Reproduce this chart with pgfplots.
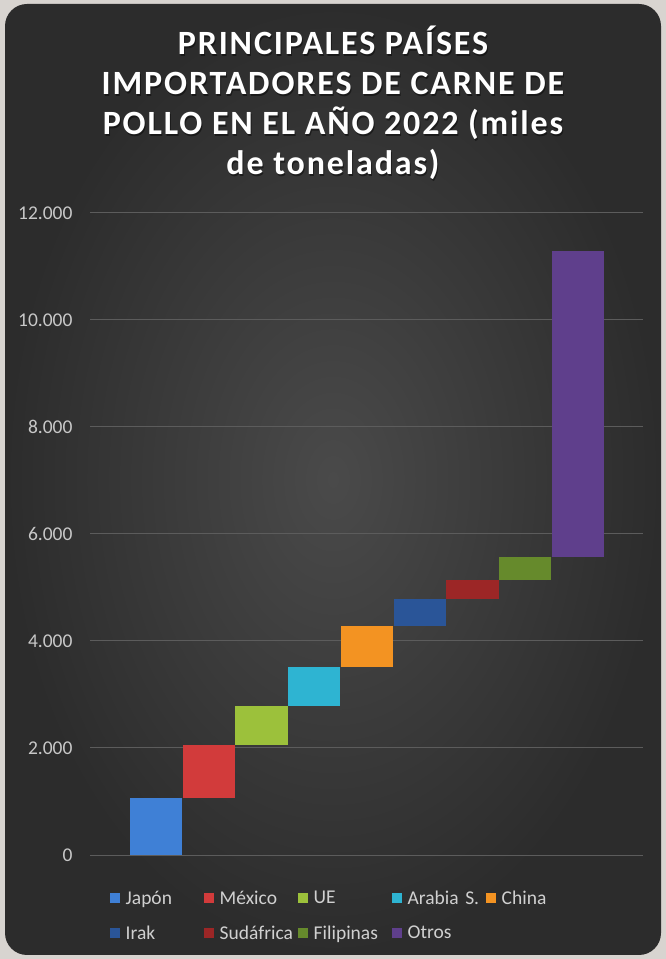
\documentclass[border=0pt]{standalone}
\usepackage{fontspec}
\setmainfont{Carlito}
\usepackage{pgfplots}
\pgfplotsset{compat=1.18}

\definecolor{pagebg}{HTML}{D8D4D0}
\definecolor{cardin}{HTML}{4A4A4A}
\definecolor{cardout}{HTML}{2C2C2C}
\definecolor{gridc}{HTML}{5C5C5C}
\definecolor{tickc}{HTML}{C8C8C8}
\definecolor{legc}{HTML}{D0D0D0}
\definecolor{cJapon}{HTML}{3F80D6}
\definecolor{cMexico}{HTML}{D23B3B}
\definecolor{cUE}{HTML}{9CC13B}
\definecolor{cArabia}{HTML}{2EB4D2}
\definecolor{cChina}{HTML}{F39322}
\definecolor{cIrak}{HTML}{2A5598}
\definecolor{cSud}{HTML}{9C2626}
\definecolor{cFil}{HTML}{668A2C}
\definecolor{cOtros}{HTML}{5F3F8C}

% waterfall: invisible base + one series per country
\pgfplotstableread{
x base Japon Mexico UE Arabia China Irak Sud Fil Otros
0 0    1065 0   0   0   0   0   0   0   0
1 1065 0    995 0   0   0   0   0   0   0
2 2060 0    0   730 0   0   0   0   0   0
3 2790 0    0   0   730 0   0   0   0   0
4 3520 0    0   0   0   760 0   0   0   0
5 4280 0    0   0   0   0   505 0   0   0
6 4785 0    0   0   0   0   0   355 0   0
7 5140 0    0   0   0   0   0   0   435 0
8 5575 0    0   0   0   0   0   0   0   5720
}\wf

\tikzset{
  ttl/.style={anchor=base, text=white, font=\bfseries\fontsize{34}{40}\selectfont\addfontfeatures{LetterSpace=5.5}},
  ttlsh/.style={ttl, text=black, opacity=0.45},
}

\begin{document}
\begin{tikzpicture}
\fill[pagebg] (0,0) rectangle (666pt,959pt);
\shade[rounded corners=22pt, inner color=cardin, outer color=cardout] (5pt,4pt) rectangle (661pt,955pt);
% title, one node per line
\foreach \yy/\tt in {904/{PRINCIPALES PAÍSES}, 864/{IMPORTADORES DE CARNE DE}, 824/{POLLO EN EL AÑO 2022 (miles}, 784/{de toneladas)}} {
  \node[ttlsh] at (334pt,\yy pt-1.5pt) {\tt};
  \node[ttl] at (333pt,\yy pt) {\tt};
}
\begin{axis}[
  at={(90pt,104pt)}, anchor=south west,
  scale only axis, width=553pt, height=642pt,
  ybar stacked, bar width=0.99,
  xmin=-1.25, xmax=9.23,
  ymin=0, ymax=12000,
  ytick={0,2000,...,12000},
  xtick=\empty,
  axis line style={draw=none},
  major tick length=0pt,
  ymajorgrids, grid style={gridc, line width=1pt},
  scaled y ticks=false,
  /pgf/number format/1000 sep={.},
  /pgf/number format/assume math mode=true,
  y tick label style={text=tickc, font=\fontsize{19.5}{21}\selectfont, xshift=-14pt},
  legend image code/.code={\fill[#1] (0pt,-5pt) rectangle (10pt,5pt);},
  legend columns=5,
  legend cell align=left,
  legend style={at={(0pt,0pt)}, anchor=north west, xshift=17pt, yshift=-32pt,
    draw=none, fill=none, text=legc, font=\fontsize{19.5}{21}\selectfont,
    /tikz/every odd column/.append style={column sep=4pt},
    row sep=17pt,
    nodes={text width=77pt, inner sep=1.5pt}},
]
\addplot[draw=none, fill=none, forget plot] table[x=x, y=base] {\wf};
\addplot[draw=none, fill=cJapon] table[x=x, y=Japon] {\wf};
\addlegendentry{Japón}
\addplot[draw=none, fill=cMexico] table[x=x, y=Mexico] {\wf};
\addlegendentry{México}
\addplot[draw=none, fill=cUE] table[x=x, y=UE] {\wf};
\addlegendentry{UE}
\addplot[draw=none, fill=cArabia] table[x=x, y=Arabia] {\wf};
\addlegendentry{Arabia S.}
\addplot[draw=none, fill=cChina] table[x=x, y=China] {\wf};
\addlegendentry{China}
\addplot[draw=none, fill=cIrak] table[x=x, y=Irak] {\wf};
\addlegendentry{Irak}
\addplot[draw=none, fill=cSud] table[x=x, y=Sud] {\wf};
\addlegendentry{Sudáfrica}
\addplot[draw=none, fill=cFil] table[x=x, y=Fil] {\wf};
\addlegendentry{Filipinas}
\addplot[draw=none, fill=cOtros] table[x=x, y=Otros] {\wf};
\addlegendentry{Otros}
\end{axis}
\end{tikzpicture}
\end{document}
